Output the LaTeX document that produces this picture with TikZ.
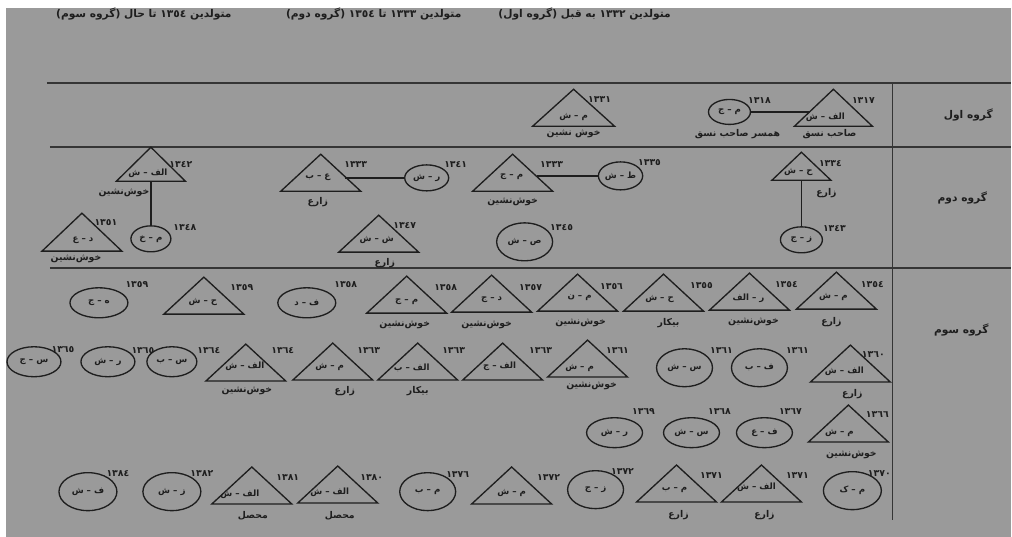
\documentclass[tikz,border=0pt]{standalone}
\usepackage{fontspec}
\usepackage{tikz}
\usetikzlibrary{shapes.geometric}
\newfontfamily\fa[Script=Arabic]{DejaVu Sans}
\TeXXeTstate=1
\newcommand{\rl}[1]{{\fa\beginR #1\endR}}
\definecolor{paper}{HTML}{9A9A9A}
\definecolor{ink}{HTML}{1E1E1E}

\begin{document}
\begin{tikzpicture}[
    x=0.75pt,y=-0.75pt,
    every node/.style={text=ink,inner sep=0pt},
    tri/.style={draw=ink,line width=1pt,isosceles triangle,isosceles triangle stretches,
      shape border rotate=90,minimum width=60pt,minimum height=27.75pt,anchor=south},
    circ/.style={draw=ink,line width=1pt,ellipse,minimum width=42pt,minimum height=28.5pt,
      font=\bfseries\fontsize{6.5}{7}\selectfont},
    ini/.style={font=\bfseries\fontsize{6.5}{7}\selectfont},
    year/.style={font=\fa\bfseries\fontsize{7}{8}\selectfont},
    job/.style={font=\bfseries\fontsize{7}{8}\selectfont},
    head/.style={font=\bfseries\fontsize{8}{9}\selectfont},
    link/.style={draw=ink,line width=1pt},
    rule/.style={draw=ink!90,line width=1.1pt}]
  % ---- paper ----
  \fill[white] (0,0) rectangle (1012,537);
  \fill[paper] (6,8) rectangle (1012,537);
  % ---- headings ----
  \node[head] (h1) at (585,14) {\rl{متولدین ١٣٣٢ به قبل (گروه اول)}};
  \node[head] (h2) at (374,14) {\rl{متولدین ١٣٣٣ تا ١٣٥٤ (گروه دوم)}};
  \node[head] (h3) at (144,14) {\rl{متولدین ١٣٥٤ تا حال (گروه سوم)}};
  % ---- table ----
  \draw[rule] (47,83) -- (1012,83);
  \draw[rule] (50,147) -- (1012,147);
  \draw[rule] (50,268) -- (1012,268);
  \draw[rule] (893,83) -- (893,520);
  \node[head] (g1) at (969,115) {\rl{گروه اول}};
  \node[head] (g2) at (963,198) {\rl{گروه دوم}};
  \node[head] (g3) at (962,330) {\rl{گروه سوم}};
  % ---- group 1 ----
  \node[tri,minimum width=58.5pt] (a1317) at (834,127) {};
  \node[circ,minimum width=31.5pt,minimum height=18.75pt] (a1318) at (730,112) {\rl{م – ج}};
  \node[tri,minimum width=61.5pt] (a1331) at (574,127) {};
  \draw[link] (a1318.east) -- (a1318.east -| a1317.west);
  % ---- group 2 ----
  \node[tri,minimum width=51.75pt,minimum height=25.5pt] (b1342) at (151,182) {};
  \node[circ,minimum width=30pt,minimum height=19.5pt] (b1348) at (151,239) {\rl{م – خ}};
  \node[tri,minimum height=28.5pt] (b1351) at (82,252) {};
  \node[tri] (b1333) at (321,192) {};
  \node[circ,minimum width=33pt,minimum height=19.5pt] (b1341) at (427,178) {\rl{ر – ش}};
  \node[tri] (b1333b) at (513,192) {};
  \node[circ,minimum width=33pt,minimum height=21pt] (b1335) at (621,176) {\rl{ط – ش}};
  \node[tri,minimum width=44.25pt,minimum height=21pt] (b1334) at (802,181) {};
  \node[circ,minimum width=31.5pt,minimum height=19.5pt] (b1343) at (802,240) {\rl{ز – ج}};
  \node[circ] (b1345) at (525,242) {\rl{ص – ش}};
  \node[tri] (b1347) at (379,253) {};
  \draw[link] (b1342.south) -- (b1348.north);
  \draw[link] (b1341.west) -- (b1341.west -| b1333.east);
  \draw[link] (b1335.west) -- (b1335.west -| b1333b.east);
  \draw[link] (b1334.south) -- (b1343.north);
  % ---- group 3 ----
  \node[circ,minimum width=43.5pt,minimum height=22.5pt] (c1359a) at (99,303) {\rl{ه – ج}};
  \node[tri] (c1359b) at (204,315) {};
  \node[circ,minimum width=43.5pt,minimum height=22.5pt] (c1358a) at (307,303) {\rl{ف – د}};
  \node[tri] (c1358b) at (407,314) {};
  \node[tri] (c1357) at (492,313) {};
  \node[tri] (c1356) at (578,312) {};
  \node[tri] (c1355) at (664,312) {};
  \node[tri] (c1354a) at (750,311) {};
  \node[tri] (c1354b) at (837,310) {};
  \node[circ,minimum width=40.5pt,minimum height=22.5pt] (d1365a) at (34,362) {\rl{س – ج}};
  \node[circ,minimum width=40.5pt,minimum height=22.5pt] (d1365b) at (108,362) {\rl{ر – ش}};
  \node[circ,minimum width=37.5pt,minimum height=22.5pt] (d1364a) at (172,362) {\rl{س – ب}};
  \node[tri] (d1364b) at (246,382) {};
  \node[tri] (d1363a) at (333,381) {};
  \node[tri] (d1363b) at (418,381) {};
  \node[tri] (d1363c) at (503,381) {};
  \node[tri] (d1361a) at (588,378) {};
  \node[circ] (d1361b) at (685,368) {\rl{س – ش}};
  \node[circ] (d1361c) at (760,368) {\rl{ف – ب}};
  \node[tri] (d1360) at (851,383) {};
  \node[circ,minimum height=22.5pt] (e1369) at (615,433) {\rl{ر – ش}};
  \node[circ,minimum height=22.5pt] (e1368) at (692,433) {\rl{س – ش}};
  \node[circ,minimum height=22.5pt] (e1367) at (765,433) {\rl{ف – ع}};
  \node[tri] (e1366) at (849,443) {};
  \node[circ,minimum width=43.5pt] (f1384) at (88,492) {\rl{ف – ش}};
  \node[circ,minimum width=43.5pt] (f1382) at (172,492) {\rl{ز – ش}};
  \node[tri] (f1381) at (252,505) {};
  \node[tri] (f1380) at (338,504) {};
  \node[circ] (f1376) at (428,492) {\rl{م – ب}};
  \node[tri] (f1372a) at (512,505) {};
  \node[circ] (f1372b) at (596,490) {\rl{ز – ج}};
  \node[tri] (f1371a) at (677,503) {};
  \node[tri] (f1371b) at (762,503) {};
  \node[circ,minimum width=43.5pt] (f1370) at (853,491) {\rl{م – ک}};
  % ---- initials inside the triangles ----
  \foreach \t/\x/\y [count=\i] in {الف – ش/826/117, م – ش/574/117,
      الف – ش/148/173, د – ع/83/240, ع – ب/318/177, م – ج/512/177, ح – ش/799/172, ش – ش/377/240,
      ح – ش/203/302, م – ج/407/302, د – ج/492/300, م – ن/580/298, ح – ش/660/299,
      ر – الف/749/298, م – ش/834/297,
      الف – ش/245/367, م – ش/330/367, الف – ب/412/368, الف – ج/500/367, م – ش/580/368,
      الف – ش/845/372, م – ش/840/433,
      الف – ش/240/495, الف – ش/330/493, م – ش/512/493, م – ب/675/490, الف – ش/757/488}
    \node[ini] (in\i) at (\x,\y) {\rl{\t}};
  % ---- years ----
  \foreach \t/\x/\y [count=\i] in {١٣١٧/864/101, ١٣١٨/760/101, ١٣٣١/600/100,
      ١٣٤٢/181/165, ١٣٤٨/185/228, ١٣٥١/106/223, ١٣٣٣/356/165, ١٣٤١/456/165, ١٣٣٣/552/165,
      ١٣٣٥/650/163, ١٣٣٤/831/164, ١٣٤٣/835/229, ١٣٤٥/562/228, ١٣٤٧/405/226,
      ١٣٥٩/137/285, ١٣٥٩/242/288, ١٣٥٨/346/285, ١٣٥٨/446/288, ١٣٥٧/531/288, ١٣٥٦/612/287,
      ١٣٥٥/702/286, ١٣٥٤/787/285, ١٣٥٤/873/285,
      ١٣٦٥/63/350, ١٣٦٥/143/351, ١٣٦٤/209/351, ١٣٦٤/283/351, ١٣٦٣/369/351, ١٣٦٣/454/351,
      ١٣٦٣/541/351, ١٣٦١/618/351, ١٣٦١/722/351, ١٣٦١/798/351, ١٣٦٠/874/355,
      ١٣٦٩/644/412, ١٣٦٨/720/412, ١٣٦٧/791/412, ١٣٦٦/878/415,
      ١٣٨٤/118/474, ١٣٨٢/202/474, ١٣٨١/288/478, ١٣٨٠/372/478, ١٣٧٦/458/475, ١٣٧٢/549/478,
      ١٣٧٢/623/472, ١٣٧١/712/476, ١٣٧١/798/476, ١٣٧٠/880/474}
    \node[year] (yr\i) at (\x,\y) {\t};
  % ---- occupations ----
  \foreach \t/\x/\y [count=\i] in {خوش نشین/574/134, صاحب نسق/830/134, همسر صاحب نسق/738/134,
      خوش‌نشین/124/193, خوش‌نشین/76/259, زارع/318/202, خوش‌نشین/513/202, زارع/827/193,
      زارع/385/263,
      خوش‌نشین/405/325, خوش‌نشین/487/325, خوش‌نشین/581/323, بیکار/669/323, خوش‌نشین/754/322,
      زارع/832/322,
      خوش‌نشین/247/391, زارع/345/391, بیکار/418/391, خوش‌نشین/592/386, زارع/853/394,
      خوش‌نشین/852/455,
      محصل/253/516, محصل/340/516, زارع/679/515, زارع/765/515}
    \node[job] (jb\i) at (\x,\y) {\rl{\t}};
\end{tikzpicture}
\end{document}
